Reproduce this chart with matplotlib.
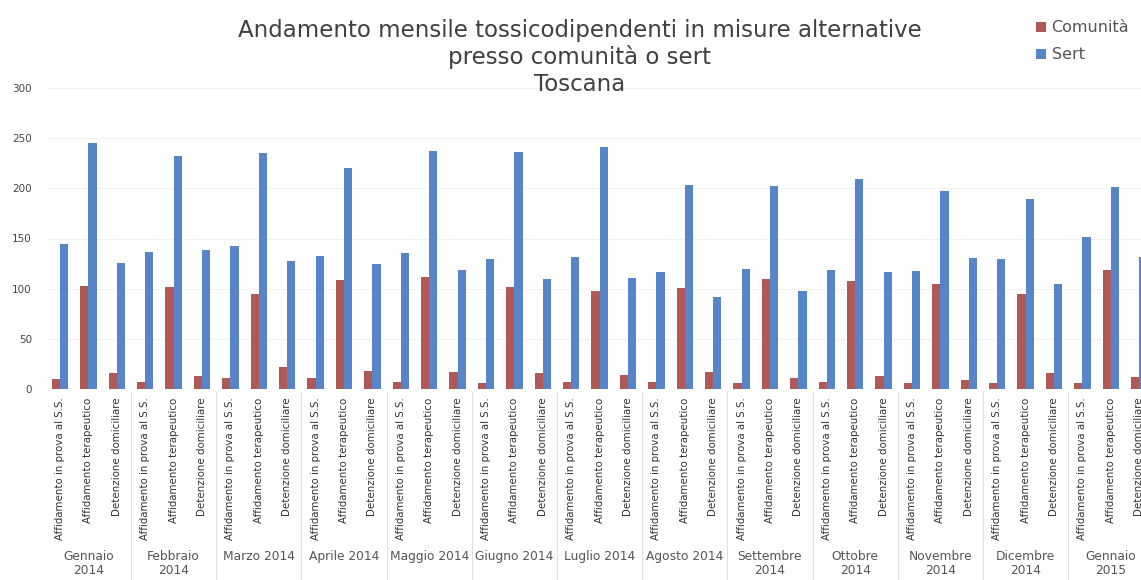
import matplotlib
matplotlib.use("Agg")
import matplotlib.pyplot as plt
import matplotlib.transforms as mtransforms
import numpy as np

months = ["Gennaio\n2014", "Febbraio\n2014", "Marzo 2014", "Aprile 2014", "Maggio 2014",
          "Giugno 2014", "Luglio 2014", "Agosto 2014", "Settembre\n2014", "Ottobre\n2014",
          "Novembre\n2014", "Dicembre\n2014", "Gennaio\n2015"]
measures = ["Affidamento in prova al S.S.", "Affidamento terapeutico", "Detenzione domiciliare"]

comunita = [10, 103, 16,   7, 102, 13,   11, 95, 22,   11, 109, 18,   7, 112, 17,
            6, 102, 16,    7, 98, 14,    7, 101, 17,   6, 110, 11,    7, 108, 13,
            6, 105, 9,     6, 95, 16,    6, 119, 12]
sert = [145, 245, 126,  137, 232, 139,  143, 235, 128,  133, 220, 125,  136, 237, 119,
        130, 236, 110,  132, 241, 111,  117, 203, 92,   120, 202, 98,   119, 209, 117,
        118, 197, 131,  130, 189, 105,  151, 201, 132]

yticks = [0, 50, 100, 150, 200, 250, 300]

W, H = 1141, 580
fig = plt.figure(figsize=(W / 100, H / 100), dpi=100)
fig.patch.set_facecolor("white")

ncat = len(comunita)
step = 28.4
left_px = 60 - step / 2
ax = fig.add_axes([left_px / W, (H - 389) / H, ncat * step / W, 301 / H])

x = np.arange(ncat)
bw = 0.29
red = "#B05A58"
blue = "#5884C8"
ax.bar(x - bw / 2, comunita, width=bw, color=red, label="Comunità", zorder=2)
ax.bar(x + bw / 2, sert, width=bw, color=blue, label="Sert", zorder=2)

ax.set_xlim(-0.5, ncat - 0.5)
ax.set_ylim(0, 300)
ax.set_yticks(yticks)
ax.set_yticklabels([str(v) for v in yticks], fontsize=7.5, color="#444444")
ax.tick_params(axis="y", length=0, pad=10)
ax.yaxis.grid(True, color="#F0F0F0", linewidth=0.6, zorder=0)
for s in ax.spines.values():
    s.set_visible(False)

ax.set_xticks(x)
ax.set_xticklabels(measures * len(months), rotation=90, fontsize=7.4,
                   color="#333333", family=["Liberation Sans Narrow", "DejaVu Sans"])
ax.tick_params(axis="x", length=0, pad=6)

trans = mtransforms.blended_transform_factory(ax.transData, fig.transFigure)
for i, m in enumerate(months):
    cx = 3 * i + 1
    ax.text(cx, (H - 550) / H, m, transform=trans, ha="center", va="top",
            fontsize=8.8, color="#555555", linespacing=1.15)
for b in range(1, len(months)):
    bx = 3 * b - 0.5
    ax.plot([bx, bx], [(H - 392) / H, 0], transform=trans, color="#E0E0E0",
            linewidth=0.8, clip_on=False)

title_kw = dict(ha="center", va="center", fontsize=16.5, color="#404040")
fig.text(580 / W, 1 - 30 / H, "Andamento mensile tossicodipendenti in misure alternative", **title_kw)
fig.text(580 / W, 1 - 57 / H, "presso comunità o sert", **title_kw)
fig.text(580 / W, 1 - 84 / H, "Toscana", **title_kw)

leg = fig.legend(loc="upper left", bbox_to_anchor=(1030 / W, 1 - 14 / H), frameon=False,
                 fontsize=11.5, handlelength=0.6, handleheight=0.6, handletextpad=0.35,
                 labelspacing=0.75, borderaxespad=0)
for t in leg.get_texts():
    t.set_color("#555555")

fig.savefig("out.png", dpi=100, facecolor="white")
